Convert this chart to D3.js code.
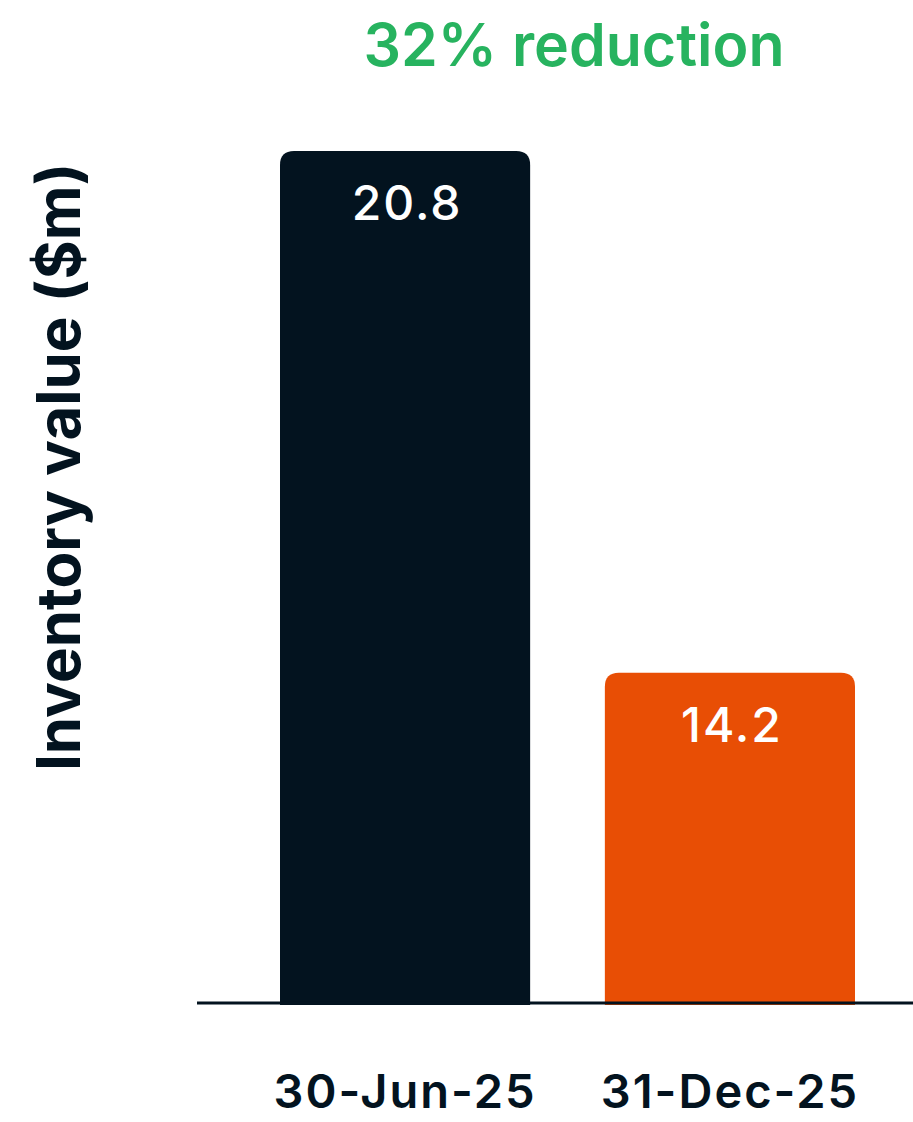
<!DOCTYPE html>
<html>
<head>
<meta charset="utf-8">
<script src="https://cdn.jsdelivr.net/npm/d3@7"></script>
<style>
  body { margin: 0; background: #fff; }
  svg { display: block; font-family: Inter, "Noto Sans", sans-serif; }
</style>
</head>
<body>
<div id="chart"></div>
<script>
// inventory chart, two bars and a headline
var categories = ["30-Jun-25", "31-Dec-25"];
var values = [20.8, 14.2];
var colors = ["#03131f", "#e84e05"];
var headline = "32% reduction";
var yTitle = "Inventory value ($m)";

var W = 913, H = 1122;

var svg = d3.select("#chart").append("svg")
    .attr("width", W)
    .attr("height", H);

var x = d3.scaleBand().domain(categories).range([280, 855]).paddingInner(0.23).paddingOuter(0);
var y = d3.scaleLinear().domain([10, 22]).range([1005, 56]);

var r = 14;
function topRounded(x0, y0, w, h) {
  return "M" + x0 + "," + (y0 + h) +
    "V" + (y0 + r) +
    "Q" + x0 + "," + y0 + " " + (x0 + r) + "," + y0 +
    "H" + (x0 + w - r) +
    "Q" + (x0 + w) + "," + y0 + " " + (x0 + w) + "," + (y0 + r) +
    "V" + (y0 + h) + "Z";
}

svg.selectAll(".bar").data(values).enter().append("path")
  .attr("class", "bar")
  .attr("fill", function(d, i) { return colors[i]; })
  .attr("d", function(d, i) {
    return topRounded(x(categories[i]), y(d), x.bandwidth(), y(10) - y(d));
  });

svg.selectAll(".val").data(values).enter().append("text")
  .attr("class", "val")
  .attr("x", function(d, i) { return x(categories[i]) + x.bandwidth() / 2 + 2; })
  .attr("y", function(d) { return y(d) + 69; })
  .attr("text-anchor", "middle")
  .attr("fill", "#fff")
  .attr("font-size", 48)
  .attr("font-weight", 500)
  .attr("letter-spacing", 2)
  .text(function(d) { return d.toFixed(1); });

// baseline
svg.append("line")
  .attr("x1", 197).attr("x2", 913)
  .attr("y1", 1003).attr("y2", 1003)
  .attr("stroke", "#03131f").attr("stroke-width", 3);

// x labels
var xAxis = svg.append("g")
  .attr("transform", "translate(0,1003)")
  .call(d3.axisBottom(x).tickSize(0).tickPadding(72));
xAxis.select(".domain").remove();
xAxis.selectAll("text")
  .attr("font-family", "Inter, sans-serif")
  .attr("font-size", 47)
  .attr("font-weight", 600)
  .attr("letter-spacing", 2)
  .attr("fill", "#03131f");

// y title
svg.append("text")
  .attr("transform", "translate(80,467) rotate(-90)")
  .attr("text-anchor", "middle")
  .attr("font-size", 60)
  .attr("font-weight", 700)
  .attr("fill", "#03131f")
  .text(yTitle);

// headline
svg.append("text")
  .attr("x", 574).attr("y", 66)
  .attr("text-anchor", "middle")
  .attr("font-size", 59)
  .attr("font-weight", 600)
  .attr("fill", "#27b35f")
  .text(headline);
</script>
</body>
</html>
